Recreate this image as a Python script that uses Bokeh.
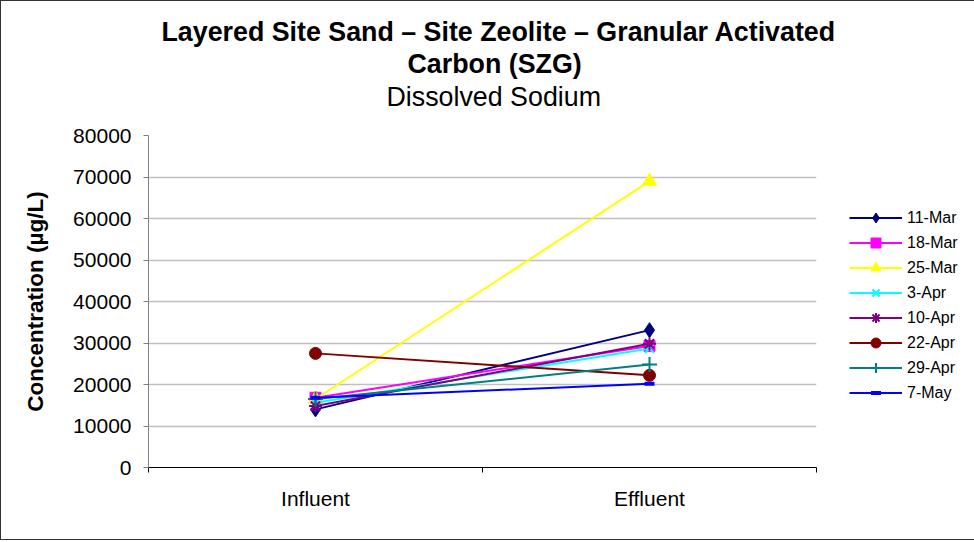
from bokeh.plotting import figure
from bokeh.models import (Range1d, FixedTicker, Title, Legend, LegendItem, NumeralTickFormatter,
                          LinearAxis)
from bokeh.embed import file_html
from bokeh.resources import INLINE
import numpy as np

categories = ["Influent", "Effluent"]
dates = ["11-Mar", "18-Mar", "25-Mar", "3-Apr", "10-Apr", "22-Apr", "29-Apr", "7-May"]
v_11mar = [14000, 33100]
v_18mar = [16800, 29300]
v_25mar = [16500, 69000]
v_3apr = [15600, 28700]
v_10apr = [14800, 29800]
v_22apr = [27500, 22200]
v_29apr = [16500, 24800]
v_7may = [16800, 20200]
y_ticks = [0, 10000, 20000, 30000, 40000, 50000, 60000, 70000, 80000]

series = [v_11mar, v_18mar, v_25mar, v_3apr, v_10apr, v_22apr, v_29apr, v_7may]
colors = ["#000080", "#FF00FF", "#FFFF00", "#00FFFF", "#800080", "#800000", "#008080", "#0000FF"]
markers = ["diamond", "square", "triangle", "x", "asterisk", "circle", "cross", "dash"]
msizes = [15, 11, 14, 13, 13, 12, 15, 10]

FONT = "Liberation Sans"
FW, FH = 668, 332

p = figure(frame_width=FW, frame_height=FH, output_backend="svg", toolbar_location=None,
           x_range=Range1d(0, len(categories)), y_range=Range1d(y_ticks[0], y_ticks[-1]),
           min_border_left=147, min_border_top=134, min_border_bottom=72, min_border_right=150)
p.title = None
p.outline_line_color = None
p.background_fill_color = "white"
p.border_fill_color = "white"
p.styles = {"border": "1px solid #333333"}

xpos = np.arange(len(categories)) + 0.5
items = []
for name, vals, c, m, s in zip(dates, series, colors, markers, msizes):
    r1 = p.line(xpos, vals, line_color=c, line_width=2)
    lw = 4 if m == "dash" else (2 if m in ("x", "asterisk", "cross") else 1)
    r2 = p.scatter(xpos, vals, marker=m, size=s, fill_color=c, line_color=c, line_width=lw)
    items.append(LegendItem(label=name, renderers=[r1, r2]))

legend = Legend(items=items, location=(33, 62), glyph_width=53, glyph_height=25,
                label_height=25, spacing=0, padding=0, margin=0, label_standoff=5,
                label_text_font=FONT, label_text_font_size="16px", label_text_color="black",
                border_line_color=None, background_fill_alpha=0)
p.add_layout(legend, "right")

# axes
p.xaxis.ticker = FixedTicker(ticks=list(xpos), minor_ticks=list(range(len(categories) + 1)))
p.xaxis.major_label_overrides = {float(x): c for x, c in zip(xpos, categories)}
p.xaxis.major_tick_out = 0
p.xaxis.major_tick_in = 0
p.xaxis.minor_tick_out = 5
p.xaxis.minor_tick_in = 0
p.xaxis.minor_tick_line_color = "black"
p.xaxis.axis_line_color = "black"
p.xaxis.major_label_text_font = FONT
p.xaxis.major_label_text_font_size = "21px"
p.xaxis.major_label_standoff = 14
p.xaxis.major_label_text_color = "black"

p.yaxis.ticker = FixedTicker(ticks=y_ticks, minor_ticks=[])
p.yaxis.formatter = NumeralTickFormatter(format="0")
p.yaxis.axis_line_color = "#808080"
p.yaxis.major_tick_line_color = "#808080"
p.yaxis.major_tick_out = 5
p.yaxis.major_tick_in = 0
p.yaxis.major_label_standoff = 12
p.yaxis.major_label_text_font = FONT
p.yaxis.major_label_text_font_size = "21px"
p.yaxis.major_label_text_color = "black"
p.yaxis.axis_label = "Concentration (µg/L)"
p.yaxis.axis_label_text_font = FONT
p.yaxis.axis_label_text_font_size = "22.5px"
p.yaxis.axis_label_text_font_style = "bold"
p.yaxis.axis_label_text_color = "black"
p.yaxis.axis_label_standoff = 22

p.xgrid.grid_line_color = None
p.ygrid.ticker = FixedTicker(ticks=y_ticks)
p.ygrid.grid_line_color = "#C0C0C0"
p.ygrid.grid_line_width = 1.5

# invisible spacer between the plot area and the titles (one invisible tick gives it height)
spacer = LinearAxis(ticker=FixedTicker(ticks=[0], minor_ticks=[]), axis_line_alpha=0,
                    major_tick_out=24, major_tick_in=0, major_tick_line_alpha=0,
                    minor_tick_out=0, minor_tick_line_alpha=0, major_label_standoff=0,
                    major_label_overrides={0: ""}, major_label_text_font_size="0px")
p.add_layout(spacer, "above")

# titles (added inner first), left-aligned with offsets so they sit centred like the reference
p.add_layout(Title(text="Dissolved Sodium", align="left", text_font=FONT, text_font_size="26.8px",
                   text_font_style="normal", text_color="black", offset=238, standoff=0), "above")
p.add_layout(Title(text="Carbon (SZG)", align="left", text_font=FONT, text_font_size="26.8px",
                   text_font_style="bold", text_color="black", offset=259, standoff=1), "above")
p.add_layout(Title(text="Layered Site Sand \u2013 Site Zeolite \u2013 Granular Activated", align="left",
                   text_font=FONT, text_font_size="26.8px", text_font_style="bold", text_color="black",
                   offset=13, standoff=0), "above")

open("out.html", "w").write(file_html(p, INLINE))
